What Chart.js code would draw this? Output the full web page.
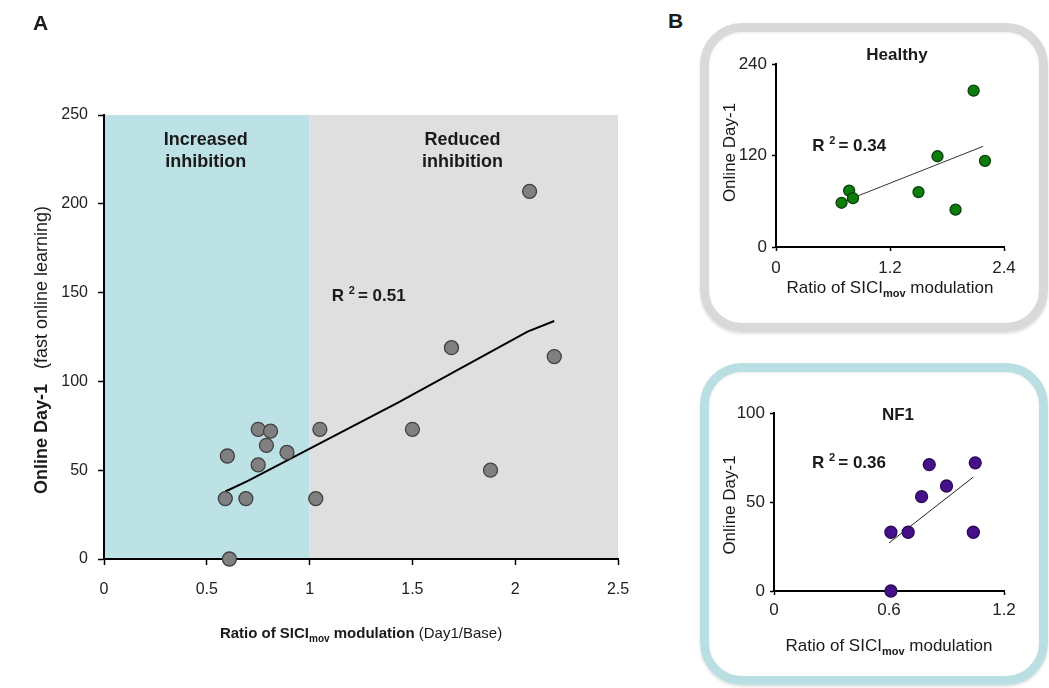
<!DOCTYPE html>
<html>
<head>
<meta charset="utf-8">
<script src="https://cdn.jsdelivr.net/npm/chart.js@4.4.1/dist/chart.umd.min.js"></script>
<style>
  body { margin: 0; background: #fff; width: 1049px; height: 688px; overflow: hidden; position: relative; }
  .wrap { position: absolute; }
  .box { position: absolute; box-sizing: border-box; border: 9px solid; border-radius: 42px;
         box-shadow: 0 2px 3px rgba(0,0,0,0.12), inset 0 1px 2px rgba(0,0,0,0.08); }
</style>
</head>
<body>
<div class="box" style="left:700px;top:23px;width:348px;height:309px;border-color:#d9d9d9"></div>
<div class="box" style="left:700px;top:363px;width:348px;height:322px;border-color:#b9dfe3"></div>
<div class="wrap" style="left:0;top:0;width:660px;height:688px"><canvas id="chartA"></canvas></div>
<div class="wrap" style="left:700px;top:23px;width:348px;height:309px"><canvas id="chartH"></canvas></div>
<div class="wrap" style="left:700px;top:363px;width:348px;height:322px"><canvas id="chartN"></canvas></div>
<script>
// ---- data ----
const mainX = [0.59, 0.60, 0.61, 0.69, 0.75, 0.75, 0.79, 0.81, 0.89, 1.03, 1.05, 1.50, 1.69, 1.88, 2.07, 2.19];
const mainY = [34, 58, 0, 34, 73, 53, 64, 72, 60, 34, 73, 73, 119, 50, 207, 114];
const mainFitX = [0.59, 0.70, 1.43, 2.06, 2.19];
const mainFitY = [38, 44, 88, 128, 134];
const mainXTicks = [0, 0.5, 1, 1.5, 2, 2.5];
const mainYTicks = [0, 50, 100, 150, 200, 250];
const regionEdges = [0, 1, 2.5];
const regionNames = [['Increased', 'inhibition'], ['Reduced', 'inhibition']];

const healthyX = [0.69, 0.77, 0.81, 1.50, 1.70, 1.89, 2.08, 2.20];
const healthyY = [58, 74, 64, 72, 119, 49, 205, 113];
const healthyFitX = [0.74, 2.18];
const healthyFitY = [61, 132];
const healthyXTicks = [0, 1.2, 2.4];
const healthyYTicks = [0, 120, 240];

const nf1X = [0.61, 0.61, 0.70, 0.77, 0.81, 0.90, 1.04, 1.05];
const nf1Y = [0, 33, 33, 53, 71, 59, 33, 72];
const nf1FitX = [0.60, 1.04];
const nf1FitY = [27, 64];
const nf1XTicks = [0, 0.6, 1.2];
const nf1YTicks = [0, 50, 100];

const FAM = "'Liberation Sans', Arial, sans-serif";
const INK = '#1a1a1a';

const zip = (xs, ys) => xs.map((x, i) => ({ x: x, y: ys[i] }));

// draw a row of text pieces with different fonts (bold / sub / sup), centred on x
function drawRuns(ctx, runs, x, y, rotate) {
  ctx.save();
  ctx.translate(x, y);
  if (rotate) ctx.rotate(-Math.PI / 2);
  ctx.textAlign = 'left';
  ctx.textBaseline = 'alphabetic';
  ctx.fillStyle = INK;
  let w = 0;
  runs.forEach(r => { ctx.font = r[1]; w += ctx.measureText(r[0]).width; });
  let cx = -w / 2;
  runs.forEach(r => {
    ctx.font = r[1];
    ctx.fillText(r[0], cx, r[2] || 0);
    cx += ctx.measureText(r[0]).width;
  });
  ctx.restore();
}

function makeChart(id, o) {
  const axis = (ticks, pad, extra) => Object.assign({
    type: 'linear', min: ticks[0], max: ticks[ticks.length - 1],
    afterBuildTicks: s => { s.ticks = ticks.map(v => ({ value: v })); },
    grid: { drawOnChartArea: false, drawTicks: true, tickLength: o.tickLen, color: '#000', tickWidth: 1.5 },
    border: { color: '#000', width: o.axisW },
    ticks: { color: '#222', font: { family: FAM, size: o.fs }, padding: pad, maxRotation: 0, autoSkip: false,
             callback: v => String(v) }
  }, extra);

  return new Chart(document.getElementById(id), {
    data: {
      datasets: [
        { type: 'scatter', data: zip(o.xs, o.ys), pointRadius: o.r, pointHoverRadius: o.r,
          backgroundColor: o.fill, borderColor: o.edge, borderWidth: 1.3, clip: false, order: 0 },
        { type: 'line', data: zip(o.fitX, o.fitY), borderColor: o.lineColor, borderWidth: o.lineW,
          pointRadius: 0, fill: false, tension: 0, clip: false, order: 1 }
      ]
    },
    options: {
      responsive: true, maintainAspectRatio: false, animation: false,
      layout: { padding: o.pad },
      plugins: { legend: { display: false }, tooltip: { enabled: false } },
      scales: {
        x: axis(o.xTicks, o.xPad, { afterFit: s => { s.height = o.xH; } }),
        y: axis(o.yTicks, o.yPad, { afterFit: s => { s.width = o.yW; } })
      }
    },
    plugins: [{
      id: 'deco',
      beforeDraw: c => { if (o.under) o.under(c); },
      afterDraw: c => { o.over(c); }
    }]
  });
}

const rSquared = (ctx, x, y, txt) => drawRuns(ctx,
  [['R ', 'bold 17px ' + FAM], ['2 ', 'bold 11px ' + FAM, -7], ['= ' + txt, 'bold 17px ' + FAM]], x, y);

// ---- A ----
makeChart('chartA', {
  xs: mainX, ys: mainY, fitX: mainFitX, fitY: mainFitY, xTicks: mainXTicks, yTicks: mainYTicks,
  r: 7, fill: '#808080', edge: '#404040', lineColor: '#000', lineW: 2,
  fs: 16, tickLen: 6, axisW: 2, xPad: 15, yPad: 10,
  pad: { left: 0, top: 115, right: 42, bottom: 0 }, xH: 688 - 559, yW: 104,
  under: c => {
    const ctx = c.ctx, x = c.scales.x;
    const cols = ['#bde2e6', '#dfdfdf'];
    ctx.save();
    for (let i = 0; i < regionNames.length; i++) {
      const l = x.getPixelForValue(regionEdges[i]), r = x.getPixelForValue(regionEdges[i + 1]);
      ctx.fillStyle = cols[i];
      ctx.fillRect(l, c.chartArea.top, r - l, c.chartArea.bottom - c.chartArea.top);
    }
    ctx.restore();
  },
  over: c => {
    const ctx = c.ctx, x = c.scales.x, y = c.scales.y, a = c.chartArea;
    const B = 'bold 18px ' + FAM;
    const labelX = [0.495, 1.744];
    regionNames.forEach((lines, i) => {
      const px = x.getPixelForValue(labelX[i]);
      drawRuns(ctx, [[lines[0], B]], px, y.getPixelForValue(233));
      drawRuns(ctx, [[lines[1], B]], px, y.getPixelForValue(221));
    });
    rSquared(ctx, x.getPixelForValue(1.093) + 40, y.getPixelForValue(145), '0.51');
    // axis titles
    drawRuns(ctx, [['Ratio of SICI', 'bold 15px ' + FAM], ['mov', 'bold 10px ' + FAM, 4],
                   [' modulation', 'bold 15px ' + FAM], [' (Day1/Base)', '15px ' + FAM]],
             (a.left + a.right) / 2, 638);
    drawRuns(ctx, [['Online Day-1', 'bold 18px ' + FAM], ['   (fast online learning)', '18px ' + FAM]],
             47, 350, true);
    ctx.save();
    ctx.font = 'bold 21px ' + FAM; ctx.fillStyle = INK; ctx.textAlign = 'left';
    ctx.fillText('A', 33, 30);
    ctx.restore();
  }
});

// ---- B: Healthy ----
makeChart('chartH', {
  xs: healthyX, ys: healthyY, fitX: healthyFitX, fitY: healthyFitY, xTicks: healthyXTicks, yTicks: healthyYTicks,
  r: 5.5, fill: '#0a7d0a', edge: '#0b3f0b', lineColor: '#333', lineW: 1,
  fs: 17, tickLen: 4, axisW: 2, xPad: 7, yPad: 5,
  pad: { left: 0, top: 41, right: 44, bottom: 0 }, xH: 309 - 224, yW: 76,
  over: c => {
    const ctx = c.ctx, x = c.scales.x, y = c.scales.y, a = c.chartArea;
    drawRuns(ctx, [['Healthy', 'bold 17px ' + FAM]], 197, 37);
    rSquared(ctx, x.getPixelForValue(0.36) + 39, y.getPixelForValue(126), '0.34');
    drawRuns(ctx, [['Ratio of SICI', '17px ' + FAM], ['mov', 'bold 11px ' + FAM, 4], [' modulation', '17px ' + FAM]],
             (a.left + a.right) / 2, a.bottom + 46);
    drawRuns(ctx, [['Online Day-1', '17px ' + FAM]], 35, (a.top + a.bottom) / 2 - 3, true);
  }
});

// ---- B: NF1 ----
makeChart('chartN', {
  xs: nf1X, ys: nf1Y, fitX: nf1FitX, fitY: nf1FitY, xTicks: nf1XTicks, yTicks: nf1YTicks,
  r: 6, fill: '#45108a', edge: '#2a0a55', lineColor: '#222', lineW: 1,
  fs: 17, tickLen: 4, axisW: 2, xPad: 5, yPad: 5,
  pad: { left: 0, top: 50, right: 44, bottom: 0 }, xH: 322 - 228, yW: 74,
  over: c => {
    const ctx = c.ctx, x = c.scales.x, y = c.scales.y, a = c.chartArea;
    drawRuns(ctx, [['NF1', 'bold 17px ' + FAM]], 198, 57);
    rSquared(ctx, x.getPixelForValue(0.188) + 39, y.getPixelForValue(69), '0.36');
    drawRuns(ctx, [['Ratio of SICI', '17px ' + FAM], ['mov', 'bold 11px ' + FAM, 4], [' modulation', '17px ' + FAM]],
             (a.left + a.right) / 2, a.bottom + 60);
    drawRuns(ctx, [['Online Day-1', '17px ' + FAM]], 35, (a.top + a.bottom) / 2 + 3, true);
  }
});

// panel letter B
(function () {
  const d = document.createElement('div');
  d.textContent = 'B';
  d.style.cssText = "position:absolute;left:668px;top:9px;font:bold 21px 'Liberation Sans',Arial,sans-serif;color:#1a1a1a";
  document.body.appendChild(d);
})();
</script>
</body>
</html>
